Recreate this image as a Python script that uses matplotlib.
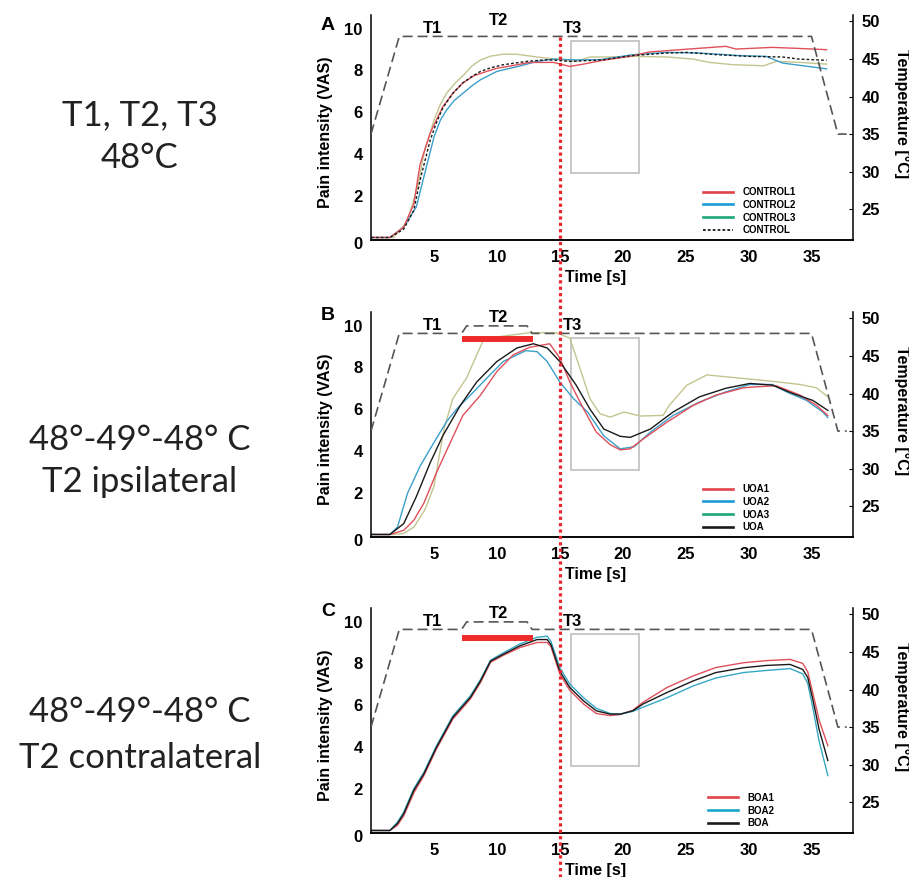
import matplotlib
matplotlib.use('Agg')
import matplotlib.pyplot as plt
from matplotlib.lines import Line2D
from matplotlib.patches import Rectangle
from matplotlib.transforms import blended_transform_factory

plt.rcParams.update({
    'font.family': 'Liberation Sans',
    'font.weight': 'bold',
    'axes.linewidth': 1.1,
})

# ---------------------------------------------------------------
# data (time in s, pain in VAS units)
# ---------------------------------------------------------------
# panel A: 48 C constant
A_RED_T = [0, 1.5, 2.6, 3.4, 3.9, 4.7, 5.7, 6.5, 7.3, 8.2, 9.2, 10.0, 11.0, 12.6, 14.5,
           15.8, 16.9, 18.4, 20.6, 22.1, 24.8, 28.2, 29.0, 31.9, 34.0, 36.2]
A_RED = [0, 0, 0.5, 1.6, 3.5, 5.0, 6.25, 6.9, 7.4, 7.75, 7.95, 8.1, 8.2, 8.38, 8.38,
         8.19, 8.3, 8.48, 8.67, 8.88, 9.0, 9.15, 9.02, 9.1, 9.05, 8.99]
A_BLUE_T = [0, 1.5, 2.6, 3.1, 3.6, 4.2, 5.0, 5.5, 6.0, 6.6, 7.3, 8.0, 8.7, 10.0, 11.9,
            13.2, 14.5, 16.3, 18.2, 20.8, 23.5, 26.1, 29.5, 31.4, 32.7, 34.6, 36.2]
A_BLUE = [0, 0, 0.5, 0.98, 1.46, 2.9, 4.8, 5.6, 6.1, 6.55, 6.9, 7.25, 7.55, 7.95, 8.22,
          8.43, 8.54, 8.5, 8.51, 8.75, 8.86, 8.83, 8.7, 8.67, 8.35, 8.2, 8.07]
A_KHAKI_T = [0, 1.8, 2.9, 3.7, 4.2, 5.0, 5.5, 6.0, 6.7, 7.4, 8.0, 8.7, 9.5, 10.5, 11.6,
             13.2, 14.7, 16.3, 17.4, 19.0, 20.8, 23.5, 25.6, 26.9, 28.8, 31.2, 32.2, 34.1,
             36.2]
A_KHAKI = [0, 0, 0.8, 2.4, 4.0, 5.6, 6.35, 6.9, 7.4, 7.8, 8.2, 8.5, 8.68, 8.77, 8.77,
           8.64, 8.54, 8.43, 8.64, 8.64, 8.67, 8.64, 8.54, 8.38, 8.27, 8.22, 8.43, 8.38,
           8.3]
A_MEAN_T = [0, 1.5, 2.6, 3.4, 3.9, 4.7, 5.2, 5.7, 6.5, 7.3, 8.0, 8.7, 9.5, 10.5, 12.4,
            14.0, 15.8, 18.4, 20.6, 23.5, 25.1, 27.5, 30.0, 32.7, 34.0, 36.2]
A_MEAN = [0, 0, 0.4, 1.3, 2.75, 4.65, 5.5, 6.2, 6.9, 7.4, 7.7, 7.95, 8.12, 8.27, 8.43,
          8.51, 8.43, 8.5, 8.7, 8.83, 8.86, 8.75, 8.67, 8.64, 8.54, 8.48]

# panel B: 48-49-48 C, T2 ipsilateral
B_RED_T = [0, 1.5, 2.6, 3.4, 4.2, 5.2, 6.3, 7.3, 8.7, 10.0, 11.3, 12.6, 14.2, 15.0, 15.8,
           16.9, 17.9, 19.0, 19.8, 20.6, 21.6, 23.5, 25.6, 27.4, 29.6, 30.6, 32.2, 34.1,
           35.4, 36.3]
B_RED = [0, 0, 0.2, 0.68, 1.5, 2.96, 4.4, 5.7, 6.67, 7.8, 8.6, 8.96, 9.13, 8.45, 7.3,
         6.0, 4.9, 4.3, 4.05, 4.1, 4.56, 5.37, 6.18, 6.67, 7.02, 7.07, 7.12, 6.67, 6.18, 5.7]
B_BLUE_T = [0, 1.5, 2.1, 2.9, 3.9, 5.0, 6.0, 6.8, 7.9, 9.2, 10.5, 12.3, 13.2, 14.0, 15.0,
            16.1, 17.2, 18.5, 19.0, 19.8, 20.9, 22.2, 24.0, 26.1, 28.2, 30.1, 31.9, 33.0,
            34.6, 35.9, 36.3]
B_BLUE = [0, 0, 0.35, 1.97, 3.27, 4.4, 5.4, 6.0, 6.67, 7.48, 8.28, 8.8, 8.75, 8.28, 7.3,
          6.5, 5.87, 4.72, 4.48, 4.1, 4.2, 4.9, 5.7, 6.34, 6.83, 7.18, 7.18, 6.83, 6.42,
          5.86, 5.6]
B_KHAKI_T = [0, 1.8, 2.6, 3.4, 4.3, 5.0, 5.8, 6.5, 7.6, 8.9, 10.2, 12.6, 14.7, 15.8, 16.6,
             17.4, 18.2, 19.0, 20.1, 21.4, 23.2, 23.7, 25.1, 26.7, 28.0, 30.1, 32.2, 34.1,
             35.4, 36.3]
B_KHAKI = [0, 0, 0.05, 0.35, 1.2, 2.3, 5.05, 6.5, 7.5, 9.27, 9.47, 9.66, 9.66, 9.4, 7.96,
           6.5, 5.78, 5.62, 5.86, 5.67, 5.7, 6.18, 7.15, 7.64, 7.56, 7.44, 7.31, 7.18,
           7.02, 6.59]
B_MEAN_T = [0, 1.5, 2.6, 3.6, 4.7, 5.7, 7.1, 8.4, 10.0, 11.6, 12.9, 14.0, 15.0, 16.3, 17.4,
            18.5, 19.8, 20.6, 22.2, 24.0, 26.1, 28.2, 30.1, 31.9, 33.5, 35.1, 36.3]
B_MEAN = [0, 0, 0.52, 1.81, 3.43, 4.72, 6.18, 7.3, 8.28, 8.93, 9.13, 8.93, 8.28, 7.15, 6.0,
          5.05, 4.7, 4.65, 5.05, 5.86, 6.59, 7.0, 7.23, 7.15, 6.75, 6.42, 5.94]

# panel C: 48-49-48 C, T2 contralateral (all curves share one time base)
C_T = [0, 1.5, 2.1, 2.6, 3.4, 4.2, 5.2, 6.5, 7.9, 8.7, 9.5, 10.5, 11.8, 13.2, 14.0, 14.3,
       15.0, 15.8, 16.9, 17.9, 19.0, 19.8, 20.8, 21.6, 23.5, 25.6, 27.4, 29.6, 31.4, 33.3,
       34.3, 34.7, 35.1, 35.6, 36.3]
C_RED = [0, 0, 0.25, 0.7, 1.8, 2.62, 3.9, 5.33, 6.3, 7.08, 8.05, 8.38, 8.75, 9.0, 9.0, 8.8,
         7.5, 6.7, 6.05, 5.6, 5.5, 5.55, 5.75, 6.13, 6.84, 7.4, 7.8, 8.03, 8.13, 8.19, 8.0,
         7.6, 6.6, 5.3, 4.06]
C_BLUE = [0, 0, 0.4, 0.88, 2.0, 2.78, 4.05, 5.48, 6.45, 7.22, 8.15, 8.5, 8.92, 9.25, 9.3,
          9.05, 7.8, 7.0, 6.35, 5.85, 5.6, 5.57, 5.7, 5.9, 6.35, 6.92, 7.3, 7.56, 7.66,
          7.75, 7.5, 7.05, 5.9, 4.3, 2.63]
C_MEAN = [0, 0, 0.33, 0.8, 1.92, 2.71, 3.98, 5.41, 6.37, 7.16, 8.11, 8.43, 8.83, 9.14, 9.14,
          8.9, 7.63, 6.84, 6.2, 5.73, 5.57, 5.57, 5.73, 6.05, 6.6, 7.16, 7.56, 7.79, 7.9,
          7.95, 7.71, 7.33, 6.29, 4.86, 3.35]

# stimulation temperature profiles (deg C)
TEMP_T_CONST = [0, 2.25, 35.0, 37.1, 37.8]
TEMP_CONST = [35, 48, 48, 35, 35]
TEMP_T_STEP = [0, 2.25, 7.2, 7.6, 12.4, 12.8, 35.0, 37.1, 37.8]
TEMP_STEP = [35, 48, 48, 49, 49, 48, 48, 35, 35]

T2_BAR_T = [7.2, 12.9]          # red bar over the 49 C step
T2_BAR_TEMP = {'B': 47.3, 'C': 46.9}
BOX_T = [15.9, 21.3]            # grey analysis window
BOX_VAS = [3.1, 9.4]
T3_ONSET = 15.0

PHASE_LABELS = ['T1', 'T2', 'T3']
PHASE_X = [4.9, 10.1, 16.0]
PHASE_TEMP = [49.1, 50.1, 49.0]

SIDE_TEXT = [('T1, T2, T3', '48°C'),
             ('48°-49°-48° C', 'T2 ipsilateral'),
             ('48°-49°-48° C', 'T2 contralateral')]

RED = '#e0505a'
BLUE = '#3b9fcb'
KHAKI = '#c4c490'
BLACK = '#1a1a1a'
LEG_RED = '#e2434b'
LEG_BLUE = '#1d9ad6'
LEG_GREEN = '#1ea67a'

W, H = 909, 877
fig = plt.figure(figsize=(W / 100, H / 100), dpi=100)
fig.patch.set_facecolor('white')

# axes boxes in pixels: (left, top, right, bottom)
boxes = [(371, 15, 853, 240), (371, 312, 853, 537), (371, 608, 853, 833)]
letters = [('A', 25), ('B', 315), ('C', 612)]
axes = []
for (l, t, r, b) in boxes:
    ax = fig.add_axes([l / W, 1 - b / H, (r - l) / W, (b - t) / H])
    axes.append(ax)


def style_axes(ax, legend_handles, legend_labels, leg_x):
    ax.set_xlim(0, 38.3)
    ax.set_ylim(-0.12, 10.65)
    ax.spines['top'].set_visible(False)
    ax.spines['right'].set_visible(False)
    ax.set_xticks([5, 10, 15, 20, 25, 30, 35])
    ax.set_yticks([0, 2, 4, 6, 8, 10])
    ax.tick_params(axis='both', length=0, labelsize=12)
    ax.tick_params(axis='x', pad=7)
    ax.tick_params(axis='y', pad=6)
    ax.get_yticklabels()[0].set_verticalalignment('top')
    ax.set_xlabel('Time [s]', fontsize=11.5, fontweight='bold')
    ax.xaxis.set_label_coords(0.465, -0.135)
    ax.set_ylabel('Pain intensity (VAS)', fontsize=11.5, fontweight='bold')
    ax.yaxis.set_label_coords(-0.079, 0.478)

    ax2 = ax.twinx()
    ax2.set_ylim(20.9, 50.85)
    ax2.spines['top'].set_visible(False)
    ax2.spines['left'].set_visible(False)
    ax2.set_yticks([25, 30, 35, 40, 45, 50])
    ax2.tick_params(axis='y', length=3, direction='in', pad=6, labelsize=12)
    ax2.set_ylabel('Temperature [°C]', fontsize=11.5, fontweight='bold',
                   rotation=-90, va='center')
    ax2.yaxis.set_label_coords(1.102, 0.56)

    ax.add_patch(Rectangle((BOX_T[0], BOX_VAS[0]), BOX_T[1] - BOX_T[0],
                           BOX_VAS[1] - BOX_VAS[0], fill=False,
                           edgecolor='#c4c4c4', linewidth=1.3, zorder=1))
    ax.legend(legend_handles, legend_labels, loc='lower left',
              bbox_to_anchor=(leg_x, 0.0), frameon=False, borderpad=0,
              handlelength=3.1, handletextpad=1.0, labelspacing=0.27,
              prop={'size': 7, 'weight': 'bold'})
    return ax2


def temp_line(ax2, t, temp):
    ax2.plot(t, temp, color='#555555', linewidth=1.2, linestyle=(0, (6, 3)))


def phase_labels(ax2):
    for lab, x, y in zip(PHASE_LABELS, PHASE_X, PHASE_TEMP):
        ax2.text(x, y, lab, ha='center', va='center', fontsize=12, fontweight='bold')


# ---- panel A ----
ax = axes[0]
ax.plot(A_KHAKI_T, A_KHAKI, color=KHAKI, lw=1.0)
ax.plot(A_BLUE_T, A_BLUE, color=BLUE, lw=1.0)
ax.plot(A_RED_T, A_RED, color=RED, lw=1.0)
ax.plot(A_MEAN_T, A_MEAN, color=BLACK, lw=1.0, linestyle=(0, (2, 1.5)))
hA = [Line2D([], [], color=LEG_RED, lw=1.9),
      Line2D([], [], color=LEG_BLUE, lw=1.9),
      Line2D([], [], color=LEG_GREEN, lw=1.9),
      Line2D([], [], color=BLACK, lw=1.3, linestyle=(0, (1.5, 1.2)))]
ax2 = style_axes(ax, hA, ['CONTROL1', 'CONTROL2', 'CONTROL3', 'CONTROL'], 0.678)
temp_line(ax2, TEMP_T_CONST, TEMP_CONST)
phase_labels(ax2)

# ---- panel B ----
ax = axes[1]
ax.plot(B_KHAKI_T, B_KHAKI, color=KHAKI, lw=1.0)
ax.plot(B_BLUE_T, B_BLUE, color=BLUE, lw=1.0)
ax.plot(B_RED_T, B_RED, color=RED, lw=1.0)
ax.plot(B_MEAN_T, B_MEAN, color=BLACK, lw=1.0)
hB = [Line2D([], [], color=LEG_RED, lw=1.9),
      Line2D([], [], color=LEG_BLUE, lw=1.9),
      Line2D([], [], color=LEG_GREEN, lw=1.9),
      Line2D([], [], color=BLACK, lw=1.9)]
ax2 = style_axes(ax, hB, ['UOA1', 'UOA2', 'UOA3', 'UOA'], 0.678)
temp_line(ax2, TEMP_T_STEP, TEMP_STEP)
ax2.plot(T2_BAR_T, [T2_BAR_TEMP['B']] * 2, color='#ee2a2a', lw=4.3, solid_capstyle='butt')
phase_labels(ax2)

# ---- panel C ----
ax = axes[2]
ax.plot(C_T, C_RED, color=RED, lw=1.0)
ax.plot(C_T, C_BLUE, color='#35a8c4', lw=1.0)
ax.plot(C_T, C_MEAN, color=BLACK, lw=1.0)
hC = [Line2D([], [], color=LEG_RED, lw=1.9),
      Line2D([], [], color='#1aa6c8', lw=1.9),
      Line2D([], [], color=BLACK, lw=1.9)]
ax2 = style_axes(ax, hC, ['BOA1', 'BOA2', 'BOA'], 0.689)
temp_line(ax2, TEMP_T_STEP, TEMP_STEP)
ax2.plot(T2_BAR_T, [T2_BAR_TEMP['C']] * 2, color='#ee2a2a', lw=4.3, solid_capstyle='butt')
phase_labels(ax2)

# panel letters
for lab, ypx in letters:
    fig.text(328 / W, 1 - ypx / H, lab, ha='center', va='center',
             fontsize=14, fontweight='bold')

# red dotted marker at T3 onset, running through all panels
tr = blended_transform_factory(axes[0].transData, fig.transFigure)
fig.add_artist(Line2D([T3_ONSET, T3_ONSET], [1 - 37 / H, 0], transform=tr,
                      color='#e8262d', lw=2.3, linestyle=(0, (1, 1)),
                      dash_capstyle='butt', zorder=10))

# condition descriptions on the left
side_y = [(115, 158), (440, 482), (712, 758)]
for (l1, l2), (y1, y2) in zip(SIDE_TEXT, side_y):
    fig.text(140 / W, 1 - y1 / H, l1, ha='center', va='center', fontsize=25,
             fontweight='normal', family='Lato', color='#222222')
    fig.text(140 / W, 1 - y2 / H, l2, ha='center', va='center', fontsize=25,
             fontweight='normal', family='Lato', color='#222222')

fig.savefig('out.png', dpi=100, facecolor='white')
